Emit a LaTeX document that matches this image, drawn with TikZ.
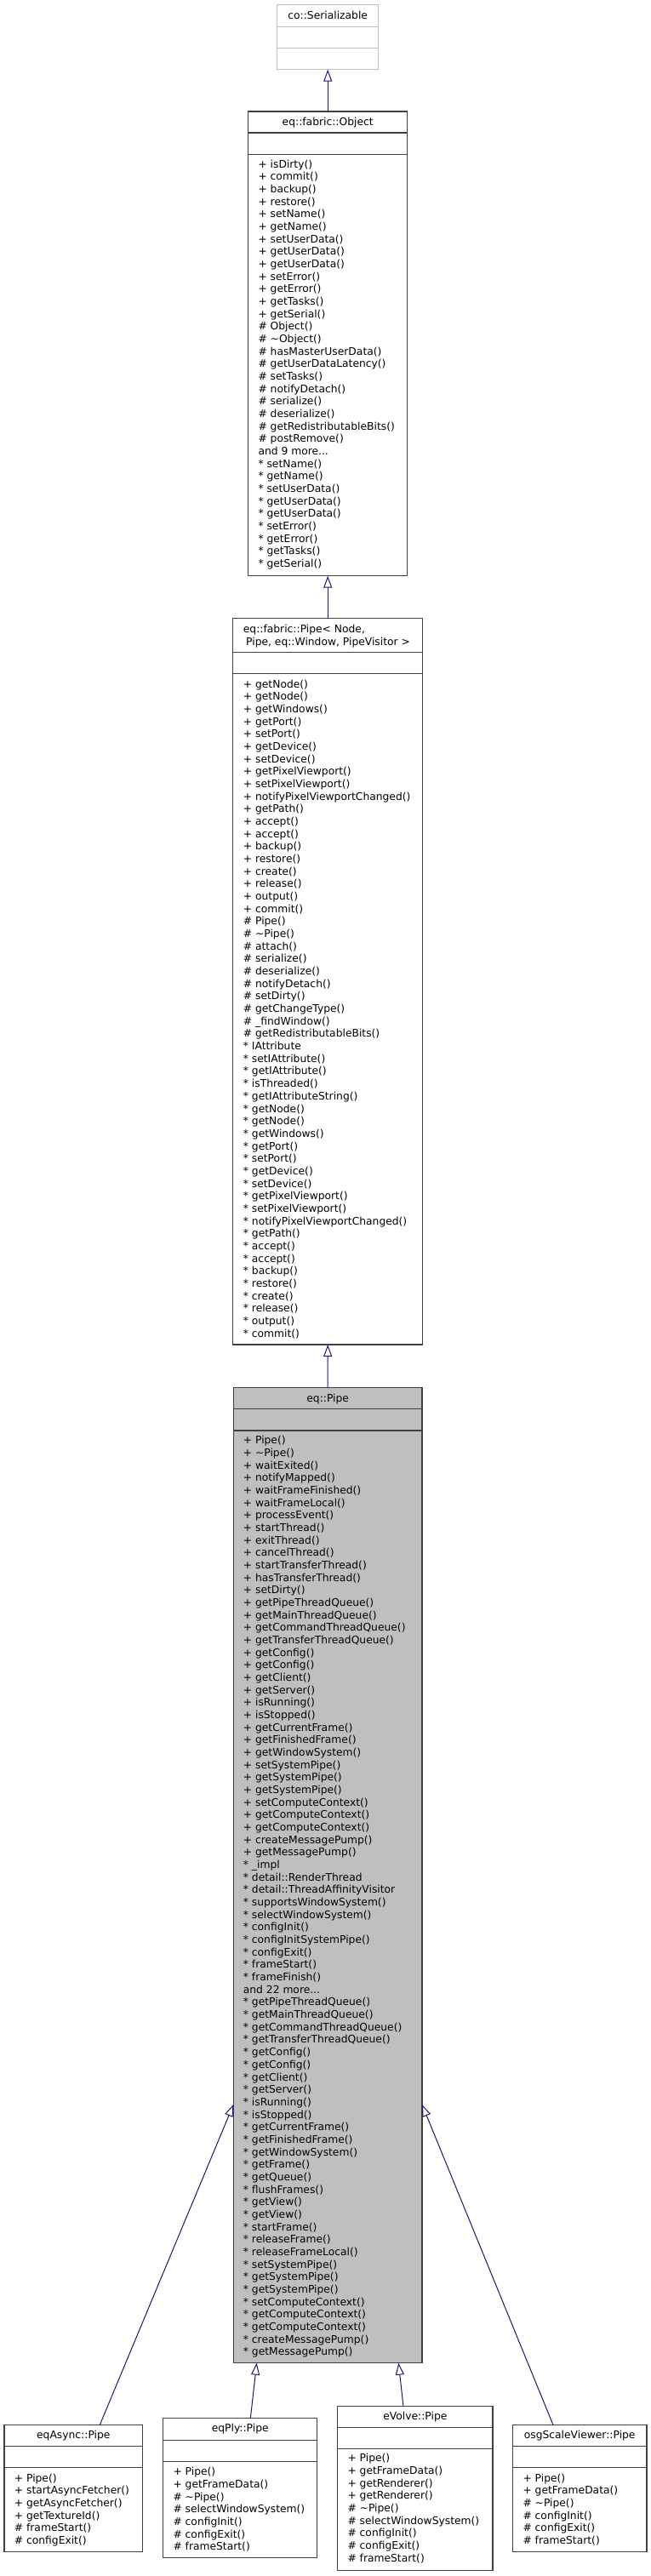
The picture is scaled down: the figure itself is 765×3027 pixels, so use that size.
\documentclass[tikz,border=0pt]{standalone}
\usepackage{fontspec}
\setmainfont{DejaVu Sans}
\usetikzlibrary{arrows.meta}
\definecolor{edgeblue}{HTML}{191970}
\definecolor{boxgray}{HTML}{BFBFBF}
\definecolor{framecol}{HTML}{404040}
\newcommand\fsz{\fontsize{12.3}{14.67}\selectfont}
\newcommand\ft{\rule{0pt}{12pt}}
\begin{document}
\begin{tikzpicture}[x=1pt,y=-1pt,
  clsbox/.style={draw=framecol, line width=1.1pt, fill=white, inner sep=0pt, outer sep=0pt, anchor=north west},
  undoc/.style={clsbox, draw=boxgray},
  curbox/.style={clsbox, fill=boxgray},
  sepline/.style={draw=framecol, line width=1.1pt},
  sepgray/.style={draw=boxgray, line width=1.1pt},
  ttl/.style={font=\fsz, anchor=base, inner sep=0pt},
  mem/.style={font=\fsz, align=left, anchor=north west, inner sep=0pt},
  inh/.style={draw=edgeblue, line width=1pt, -{Triangle[open,length=14pt,width=10pt]}}
]
\fill[white] (0,0) rectangle (765,3027);
\path[use as bounding box] (0,0) rectangle (765,3027);

% co::Serializable
\node[undoc, minimum width=119pt, minimum height=76pt] (ser) at (325.7,5.7) {};
\draw[sepgray] ([yshift=-26pt]ser.north west) -- ([yshift=-26pt]ser.north east);
\draw[sepgray] ([yshift=-51pt]ser.north west) -- ([yshift=-51pt]ser.north east);
\node[ttl] (sert) at (385.2,22.5) {co::Serializable};

% eq::fabric::Object
\node[clsbox, minimum width=187pt, minimum height=545.7pt] (obj) at (291.7,131) {};
\draw[sepline] ([yshift=-25pt]obj.north west) -- ([yshift=-25pt]obj.north east);
\draw[sepline] ([yshift=-50.7pt]obj.north west) -- ([yshift=-50.7pt]obj.north east);
\node[ttl] (objt) at (385.2,147) {eq::fabric::Object};
\node[mem] (objm) at (303.3,185) {\ft+ isDirty()\\+ commit()\\+ backup()\\+ restore()\\+ setName()\\+ getName()\\+ setUserData()\\+ getUserData()\\+ getUserData()\\+ setError()\\+ getError()\\+ getTasks()\\+ getSerial()\\\# Object()\\\# \textasciitilde Object()\\\# hasMasterUserData()\\\# getUserDataLatency()\\\# setTasks()\\\# notifyDetach()\\\# serialize()\\\# deserialize()\\\# getRedistributableBits()\\\# postRemove()\\and 9 more...\\* setName()\\* getName()\\* setUserData()\\* getUserData()\\* getUserData()\\* setError()\\* getError()\\* getTasks()\\* getSerial()};

% eq::fabric::Pipe
\node[clsbox, minimum width=223pt, minimum height=853.3pt] (fpipe) at (273.7,726.7) {};
\draw[sepline] ([yshift=-40pt]fpipe.north west) -- ([yshift=-40pt]fpipe.north east);
\draw[sepline] ([yshift=-65pt]fpipe.north west) -- ([yshift=-65pt]fpipe.north east);
\node[mem] (fpipet) at (285.7,731.5) {\ft eq::fabric::Pipe< Node,\\\hspace{3.3pt}Pipe, eq::Window, PipeVisitor >};
\node[mem] (fpipem) at (285.7,796) {\ft+ getNode()\\+ getNode()\\+ getWindows()\\+ getPort()\\+ setPort()\\+ getDevice()\\+ setDevice()\\+ getPixelViewport()\\+ setPixelViewport()\\+ notifyPixelViewportChanged()\\+ getPath()\\+ accept()\\+ accept()\\+ backup()\\+ restore()\\+ create()\\+ release()\\+ output()\\+ commit()\\\# Pipe()\\\# \textasciitilde Pipe()\\\# attach()\\\# serialize()\\\# deserialize()\\\# notifyDetach()\\\# setDirty()\\\# getChangeType()\\\# \_findWindow()\\\# getRedistributableBits()\\* IAttribute\\* setIAttribute()\\* getIAttribute()\\* isThreaded()\\* getIAttributeString()\\* getNode()\\* getNode()\\* getWindows()\\* getPort()\\* setPort()\\* getDevice()\\* setDevice()\\* getPixelViewport()\\* setPixelViewport()\\* notifyPixelViewportChanged()\\* getPath()\\* accept()\\* accept()\\* backup()\\* restore()\\* create()\\* release()\\* output()\\* commit()};

% eq::Pipe
\node[curbox, minimum width=221.7pt, minimum height=1146pt] (pipe) at (274.3,1630.7) {};
\draw[sepline] ([yshift=-25pt]pipe.north west) -- ([yshift=-25pt]pipe.north east);
\draw[sepline] ([yshift=-50.3pt]pipe.north west) -- ([yshift=-50.3pt]pipe.north east);
\node[ttl] (pipet) at (385.2,1647) {eq::Pipe};
\node[mem] (pipem) at (285.7,1684.6) {\ft+ Pipe()\\+ \textasciitilde Pipe()\\+ waitExited()\\+ notifyMapped()\\+ waitFrameFinished()\\+ waitFrameLocal()\\+ processEvent()\\+ startThread()\\+ exitThread()\\+ cancelThread()\\+ startTransferThread()\\+ hasTransferThread()\\+ setDirty()\\+ getPipeThreadQueue()\\+ getMainThreadQueue()\\+ getCommandThreadQueue()\\+ getTransferThreadQueue()\\+ getConfig()\\+ getConfig()\\+ getClient()\\+ getServer()\\+ isRunning()\\+ isStopped()\\+ getCurrentFrame()\\+ getFinishedFrame()\\+ getWindowSystem()\\+ setSystemPipe()\\+ getSystemPipe()\\+ getSystemPipe()\\+ setComputeContext()\\+ getComputeContext()\\+ getComputeContext()\\+ createMessagePump()\\+ getMessagePump()\\* \_impl\\* detail::RenderThread\\* detail::ThreadAffinityVisitor\\* supportsWindowSystem()\\* selectWindowSystem()\\* configInit()\\* configInitSystemPipe()\\* configExit()\\* frameStart()\\* frameFinish()\\and 22 more...\\* getPipeThreadQueue()\\* getMainThreadQueue()\\* getCommandThreadQueue()\\* getTransferThreadQueue()\\* getConfig()\\* getConfig()\\* getClient()\\* getServer()\\* isRunning()\\* isStopped()\\* getCurrentFrame()\\* getFinishedFrame()\\* getWindowSystem()\\* getFrame()\\* getQueue()\\* flushFrames()\\* getView()\\* getView()\\* startFrame()\\* releaseFrame()\\* releaseFrameLocal()\\* setSystemPipe()\\* getSystemPipe()\\* getSystemPipe()\\* setComputeContext()\\* getComputeContext()\\* getComputeContext()\\* createMessagePump()\\* getMessagePump()};

% eqAsync::Pipe
\node[clsbox, minimum width=162.7pt, minimum height=149.4pt] (async) at (5,2849.3) {};
\draw[sepline] ([yshift=-25pt]async.north west) -- ([yshift=-25pt]async.north east);
\draw[sepline] ([yshift=-50pt]async.north west) -- ([yshift=-50pt]async.north east);
\node[ttl] (asynct) at (86.3,2865) {eqAsync::Pipe};
\node[mem] (asyncm) at (16.7,2904) {\ft+ Pipe()\\+ startAsyncFetcher()\\+ getAsyncFetcher()\\+ getTextureId()\\\# frameStart()\\\# configExit()};

% eqPly::Pipe
\node[clsbox, minimum width=181pt, minimum height=164pt] (ply) at (191.7,2841.7) {};
\draw[sepline] ([yshift=-25.6pt]ply.north west) -- ([yshift=-25.6pt]ply.north east);
\draw[sepline] ([yshift=-51pt]ply.north west) -- ([yshift=-51pt]ply.north east);
\node[ttl] (plyt) at (282.2,2857.6) {eqPly::Pipe};
\node[mem] (plym) at (203.3,2896.6) {\ft+ Pipe()\\+ getFrameData()\\\# \textasciitilde Pipe()\\\# selectWindowSystem()\\\# configInit()\\\# configExit()\\\# frameStart()};

% eVolve::Pipe
\node[clsbox, minimum width=182.3pt, minimum height=193.4pt] (evolve) at (396.7,2827.3) {};
\draw[sepline] ([yshift=-25pt]evolve.north west) -- ([yshift=-25pt]evolve.north east);
\draw[sepline] ([yshift=-50.4pt]evolve.north west) -- ([yshift=-50.4pt]evolve.north east);
\node[ttl] (evolvet) at (487.9,2843.6) {eVolve::Pipe};
\node[mem] (evolvem) at (408.3,2880.6) {\ft+ Pipe()\\+ getFrameData()\\+ getRenderer()\\+ getRenderer()\\\# \textasciitilde Pipe()\\\# selectWindowSystem()\\\# configInit()\\\# configExit()\\\# frameStart()};

% osgScaleViewer::Pipe
\node[clsbox, minimum width=157.7pt, minimum height=149.4pt] (osg) at (602.3,2849.3) {};
\draw[sepline] ([yshift=-25pt]osg.north west) -- ([yshift=-25pt]osg.north east);
\draw[sepline] ([yshift=-50pt]osg.north west) -- ([yshift=-50pt]osg.north east);
\node[ttl] (osgt) at (681.2,2865) {osgScaleViewer::Pipe};
\node[mem] (osgm) at (614.3,2904) {\ft+ Pipe()\\+ getFrameData()\\\# \textasciitilde Pipe()\\\# configInit()\\\# configExit()\\\# frameStart()};

% inheritance edges
\draw[inh] (obj.north) -- (ser.south);
\draw[inh] (fpipe.north) -- (obj.south);
\draw[inh] (pipe.north) -- (fpipe.south);
\draw[inh] ([xshift=31pt]async.north) -- ([yshift=-842.3pt]pipe.north west);
\draw[inh] ([xshift=12.1pt]ply.north) -- ([xshift=27.4pt]pipe.south west);
\draw[inh] ([xshift=-13.9pt]evolve.north) -- ([xshift=-27.7pt]pipe.south east);
\draw[inh] ([xshift=-31.2pt]osg.north) -- ([yshift=-842.3pt]pipe.north east);
\end{tikzpicture}
\end{document}
